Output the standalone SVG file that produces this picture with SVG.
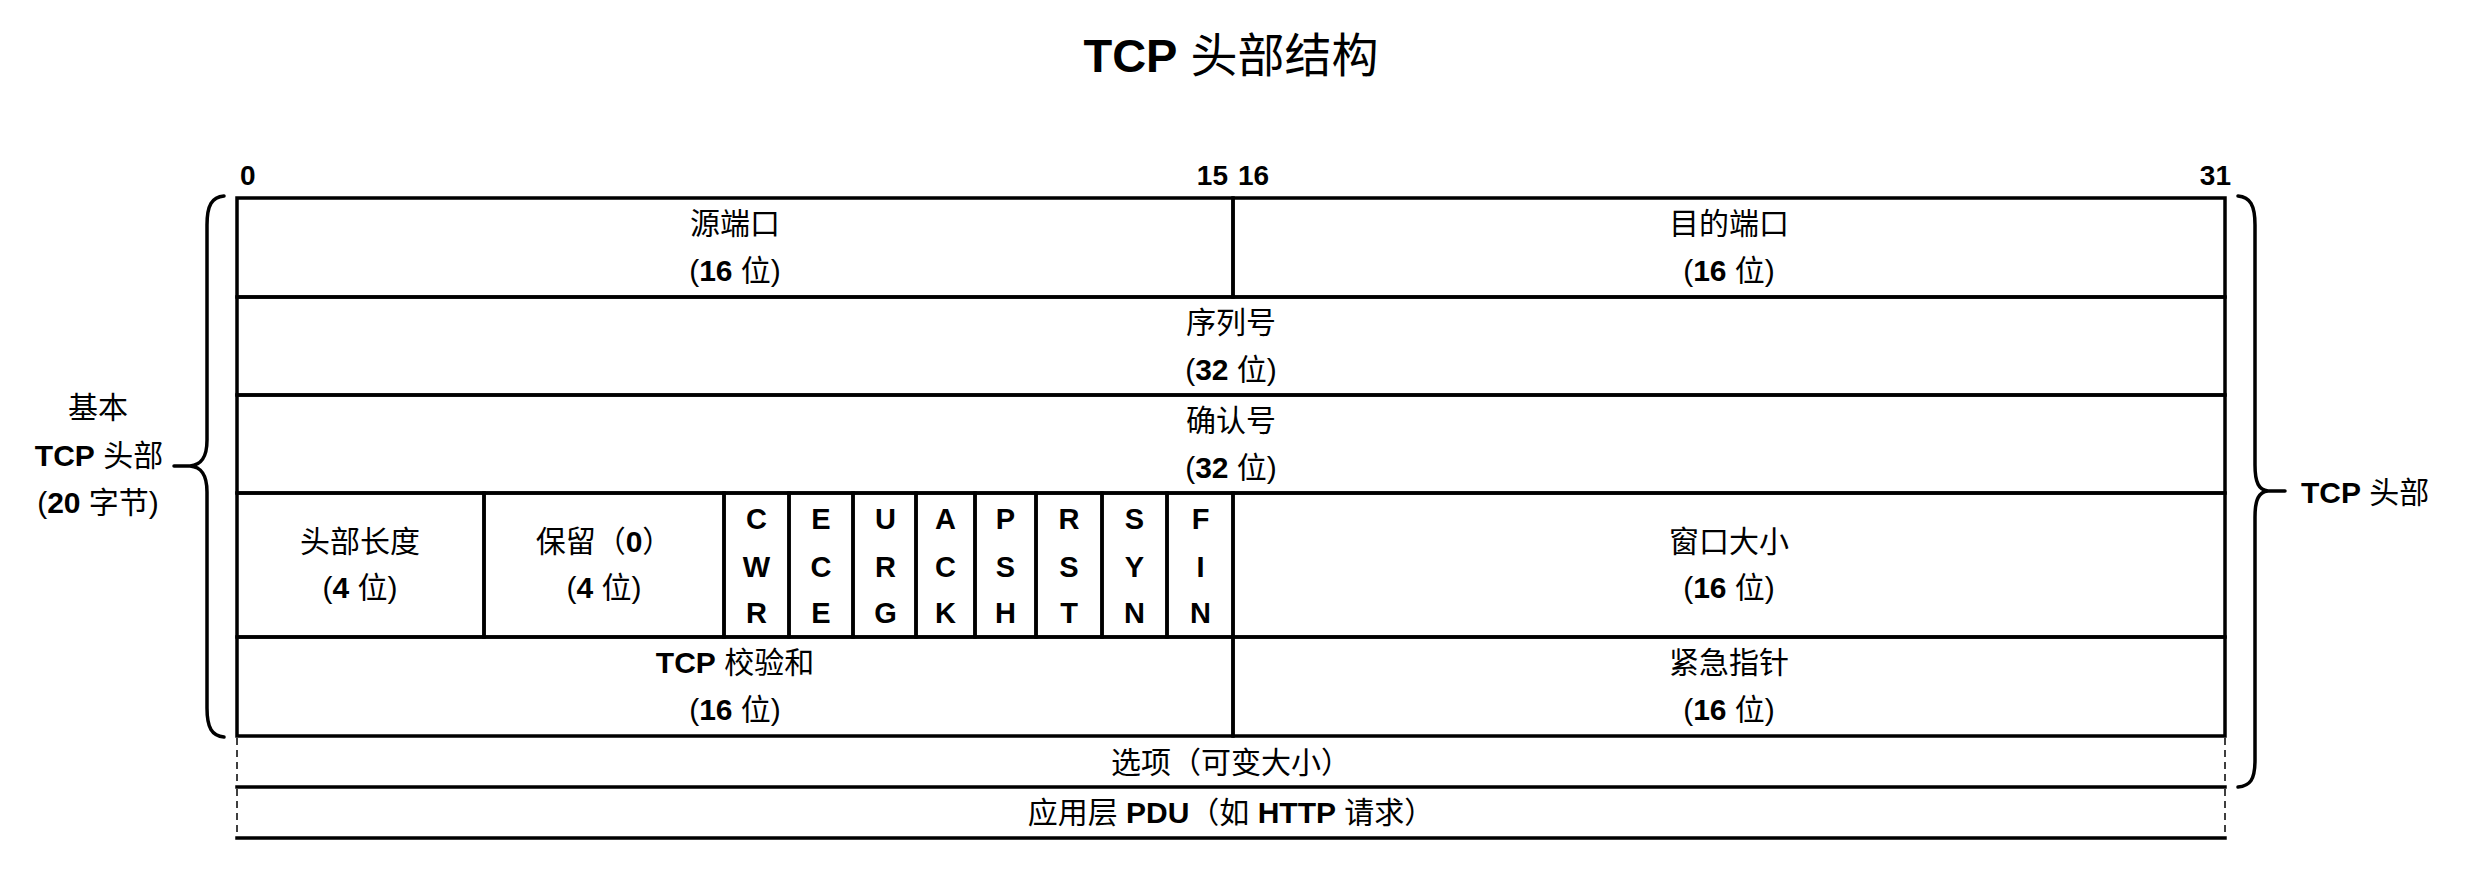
<svg xmlns="http://www.w3.org/2000/svg" width="2466" height="884" viewBox="0 0 2466 884">
<style>
.t { font-family: "Liberation Sans", "Noto Sans CJK SC", sans-serif; font-size: 30px; fill: #000; text-anchor: middle; }
.b { font-weight: bold; }
.f { font-family: "Liberation Sans", sans-serif; font-size: 29px; font-weight: bold; fill: #000; text-anchor: middle; }
.n { font-family: "Liberation Sans", sans-serif; font-size: 28px; font-weight: bold; fill: #000; }
.cell { fill: none; stroke: #000; stroke-width: 3.5; }
.ln { stroke: #000; stroke-width: 3.5; fill: none; }
.dash { stroke: #000; stroke-width: 1.5; stroke-dasharray: 7 5; fill: none; }
.brace { stroke: #000; stroke-width: 3.5; fill: none; stroke-linecap: round; stroke-linejoin: round; }
</style>
<rect width="2466" height="884" fill="#fff"/>

<g id="title">
  <text class="t" x="1231" y="72" style="font-size:47px"><tspan class="b">TCP</tspan> 头部结构</text>
</g>

<g id="bit-labels">
  <text class="n" x="240" y="185">0</text>
  <text class="n" x="1228" y="185" text-anchor="end">15</text>
  <text class="n" x="1238" y="185">16</text>
  <text class="n" x="2231" y="185" text-anchor="end">31</text>
</g>

<g id="src-port">
  <rect class="cell" x="237" y="198" width="996" height="99"/>
  <text class="t" x="735" y="234">源端口</text>
  <text class="t" x="735" y="281">(<tspan class="b">16</tspan> 位)</text>
</g>
<g id="dst-port">
  <rect class="cell" x="1233" y="198" width="992" height="99"/>
  <text class="t" x="1729" y="234">目的端口</text>
  <text class="t" x="1729" y="281">(<tspan class="b">16</tspan> 位)</text>
</g>
<g id="seq">
  <rect class="cell" x="237" y="297" width="1988" height="98"/>
  <text class="t" x="1231" y="333">序列号</text>
  <text class="t" x="1231" y="380">(<tspan class="b">32</tspan> 位)</text>
</g>
<g id="ack">
  <rect class="cell" x="237" y="395" width="1988" height="98"/>
  <text class="t" x="1231" y="431">确认号</text>
  <text class="t" x="1231" y="478">(<tspan class="b">32</tspan> 位)</text>
</g>
<g id="hlen">
  <rect class="cell" x="237" y="493" width="247" height="144"/>
  <text class="t" x="360" y="552">头部长度</text>
  <text class="t" x="360" y="598">(<tspan class="b">4</tspan> 位)</text>
</g>
<g id="reserved">
  <rect class="cell" x="484" y="493" width="240" height="144"/>
  <text class="t" x="604" y="552">保留（<tspan class="b">0</tspan>）</text>
  <text class="t" x="604" y="598">(<tspan class="b">4</tspan> 位)</text>
</g>
<g id="flag-cwr">
  <rect class="cell" x="724" y="493" width="65" height="144"/>
  <text class="f" x="756.5" y="529">C</text><text class="f" x="756.5" y="577">W</text><text class="f" x="756.5" y="623">R</text>
</g>
<g id="flag-ece">
  <rect class="cell" x="789" y="493" width="64" height="144"/>
  <text class="f" x="821" y="529">E</text><text class="f" x="821" y="577">C</text><text class="f" x="821" y="623">E</text>
</g>
<g id="flag-urg">
  <rect class="cell" x="853" y="493" width="63" height="144"/>
  <text class="f" x="885.5" y="529">U</text><text class="f" x="885.5" y="577">R</text><text class="f" x="885.5" y="623">G</text>
</g>
<g id="flag-ack">
  <rect class="cell" x="916" y="493" width="59" height="144"/>
  <text class="f" x="945.5" y="529">A</text><text class="f" x="945.5" y="577">C</text><text class="f" x="945.5" y="623">K</text>
</g>
<g id="flag-psh">
  <rect class="cell" x="975" y="493" width="61" height="144"/>
  <text class="f" x="1005.5" y="529">P</text><text class="f" x="1005.5" y="577">S</text><text class="f" x="1005.5" y="623">H</text>
</g>
<g id="flag-rst">
  <rect class="cell" x="1036" y="493" width="66" height="144"/>
  <text class="f" x="1069" y="529">R</text><text class="f" x="1069" y="577">S</text><text class="f" x="1069" y="623">T</text>
</g>
<g id="flag-syn">
  <rect class="cell" x="1102" y="493" width="65" height="144"/>
  <text class="f" x="1134.5" y="529">S</text><text class="f" x="1134.5" y="577">Y</text><text class="f" x="1134.5" y="623">N</text>
</g>
<g id="flag-fin">
  <rect class="cell" x="1167" y="493" width="66" height="144"/>
  <text class="f" x="1200.5" y="529">F</text><text class="f" x="1200.5" y="577">I</text><text class="f" x="1200.5" y="623">N</text>
</g>
<g id="window">
  <rect class="cell" x="1233" y="493" width="992" height="144"/>
  <text class="t" x="1729" y="552">窗口大小</text>
  <text class="t" x="1729" y="598">(<tspan class="b">16</tspan> 位)</text>
</g>
<g id="checksum">
  <rect class="cell" x="237" y="637" width="996" height="99"/>
  <text class="t" x="735" y="673"><tspan class="b">TCP</tspan> 校验和</text>
  <text class="t" x="735" y="720">(<tspan class="b">16</tspan> 位)</text>
</g>
<g id="urgent">
  <rect class="cell" x="1233" y="637" width="992" height="99"/>
  <text class="t" x="1729" y="673">紧急指针</text>
  <text class="t" x="1729" y="720">(<tspan class="b">16</tspan> 位)</text>
</g>
<g id="options">
  <line class="ln" x1="235.25" y1="787" x2="2226.75" y2="787"/>
  <line class="dash" x1="237" y1="738" x2="237" y2="787"/>
  <line class="dash" x1="2225" y1="738" x2="2225" y2="787"/>
  <text class="t" x="1231" y="773">选项（可变大小）</text>
</g>
<g id="pdu">
  <line class="ln" x1="235.25" y1="838" x2="2226.75" y2="838"/>
  <line class="dash" x1="237" y1="789" x2="237" y2="838"/>
  <line class="dash" x1="2225" y1="789" x2="2225" y2="838"/>
  <text class="t" x="1231" y="823">应用层 <tspan class="b">PDU</tspan>（如 <tspan class="b">HTTP</tspan> 请求）</text>
</g>

<g id="connectors">
  <path class="brace" d="M224,196 C212,197 207,205 207,225 L207,440 C207,458 201,465 190,466 L174,466 L190,466 C201,467 207,474 207,492 L207,708 C207,728 212,736 224,737"/>
  <path class="brace" d="M2238,196 C2250,197 2255,205 2255,225 L2255,465 C2255,483 2259,490 2268,491 L2285,491 L2268,491 C2259,492 2255,499 2255,517 L2255,760 C2255,780 2250,786 2238,787"/>
</g>

<g id="left-label">
  <text class="t" x="98" y="418">基本</text>
  <text class="t" x="99" y="466"><tspan class="b">TCP</tspan> 头部</text>
  <text class="t" x="98" y="513">(<tspan class="b">20</tspan> 字节)</text>
</g>
<g id="right-label">
  <text class="t" x="2301" y="503" style="text-anchor:start"><tspan class="b">TCP</tspan> 头部</text>
</g>
</svg>
